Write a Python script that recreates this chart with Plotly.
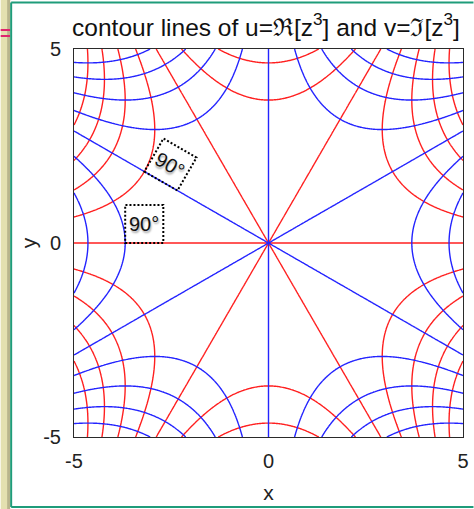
import numpy as np
import plotly.graph_objects as go

# Contour levels shared by both families of curves
contour_levels = [-250, -200, -150, -100, -50, 0, 50, 100, 150, 200, 250]
axis_range = [-5, 5]
tick_values = [-5, 0, 5]
tick_text = ["-5", "0", "5"]

# Levels used to mark the right-angle crossings
marker_level = 50
marker_labels = ["90°", "90°"]

n = 400
xs = np.linspace(axis_range[0], axis_range[1], n)
ys = np.linspace(axis_range[0], axis_range[1], n)
X, Y = np.meshgrid(xs, ys)
Z3 = (X + 1j * Y) ** 3
U = Z3.real
V = Z3.imag

W, H = 474, 509
L, R, T, B = 73.5, 10.5, 49, 72
pw, ph = W - L - R, H - T - B


def px(x):
    return (x - L) / pw


def py(y):
    return (H - B - y) / ph


def contour(z, color):
    return go.Contour(
        x=xs, y=ys, z=z,
        autocontour=False,
        contours=dict(start=min(contour_levels), end=max(contour_levels),
                      size=contour_levels[1] - contour_levels[0], coloring="lines"),
        colorscale=[[0, color], [1, color]],
        line=dict(width=1.4),
        showscale=False,
        hoverinfo="skip",
    )


fig = go.Figure()
fig.add_trace(contour(V, "#ff2020"))
fig.add_trace(contour(U, "#2424ff"))

shapes = []
annotations = []

# Right-angle markers: square boxes at the crossing of the level-50 curve
# with a zero line, aligned with that zero line.
r0 = marker_level ** (1 / 3)
for k, (ang_pos, ang_dir) in enumerate([(180.0, 0.0), (150.0, -30.0)]):
    a = np.deg2rad(ang_pos)
    d1 = np.deg2rad(ang_dir)
    d2 = d1 + np.pi / 2
    cx, cy = r0 * np.cos(a), r0 * np.sin(a)
    s = 0.98
    p0 = (cx, cy)
    p1 = (cx + s * np.cos(d1), cy + s * np.sin(d1))
    p2 = (p1[0] + s * np.cos(d2), p1[1] + s * np.sin(d2))
    p3 = (cx + s * np.cos(d2), cy + s * np.sin(d2))
    path = "M {} {} L {} {} L {} {} L {} {} Z".format(*p0, *p1, *p2, *p3)
    shapes.append(dict(type="path", path=path, xref="x", yref="y",
                       line=dict(color="black", width=2, dash="2px,2px"),
                       layer="above"))
    mx = (p0[0] + p2[0]) / 2
    my = (p0[1] + p2[1]) / 2
    annotations.append(dict(
        x=mx, y=my, xref="x", yref="y", text=marker_labels[k], showarrow=False,
        textangle=-ang_dir,
        font=dict(family="Liberation Sans, Arial", size=20, color="#111",
                  shadow="1px 2px 2px rgba(0,0,0,0.35)"),
    ))

# Page frame decoration
shapes += [
    dict(type="rect", xref="paper", yref="paper", x0=px(0), x1=px(9.5),
         y0=py(509), y1=py(0), fillcolor="#e4e0b0", line=dict(width=0), layer="below"),
    dict(type="rect", xref="paper", yref="paper", x0=px(6.5), x1=px(9.5),
         y0=py(509), y1=py(0), fillcolor="#b9b48c", line=dict(width=0), layer="below"),
    dict(type="rect", xref="paper", yref="paper", x0=px(0), x1=px(9.5),
         y0=py(31), y1=py(29), fillcolor="#e0246e", line=dict(width=0), layer="below"),
    dict(type="rect", xref="paper", yref="paper", x0=px(0), x1=px(9.5),
         y0=py(37), y1=py(35), fillcolor="#e0246e", line=dict(width=0), layer="below"),
    dict(type="line", xref="paper", yref="paper", x0=px(10.5), x1=px(10.5),
         y0=py(2.5), y1=py(507), line=dict(color="#1f9c7a", width=2)),
    dict(type="line", xref="paper", yref="paper", x0=px(10.5), x1=px(474),
         y0=py(2.5), y1=py(2.5), line=dict(color="#1f9c7a", width=2)),
    dict(type="line", xref="paper", yref="paper", x0=px(10.5), x1=px(474),
         y0=py(507), y1=py(507), line=dict(color="#1f9c7a", width=2)),
]

axis_common = dict(
    range=axis_range, tickvals=tick_values, ticktext=tick_text,
    showgrid=False, zeroline=False, showline=True, mirror=True,
    linecolor="#2a2a2a", linewidth=1, ticks="", automargin=False,
    tickfont=dict(family="Liberation Sans, Arial", size=20, color="#222"),
    title_font=dict(family="Liberation Sans, Arial", size=21, color="#222"),
)

fig.update_layout(
    width=W, height=H,
    margin=dict(l=L, r=R, t=T, b=B, autoexpand=False),
    paper_bgcolor="white", plot_bgcolor="white",
    title=dict(text="contour lines of u=ℜ[z<sup>3</sup>] and v=ℑ[z<sup>3</sup>]",
               xref="paper", x=px(266), xanchor="center",
               yref="container", y=1 - 27 / H, yanchor="middle",
               automargin=False,
               font=dict(family="Liberation Sans, Arial", size=24.5, color="#111")),
    xaxis=dict(**axis_common, title=dict(text="x", standoff=14), ticklabelstandoff=6),
    yaxis=dict(**axis_common, title=dict(text="y", standoff=0), ticklabelstandoff=8),
    shapes=shapes,
    annotations=annotations,
    showlegend=False,
)

fig.write_html("out.html")
